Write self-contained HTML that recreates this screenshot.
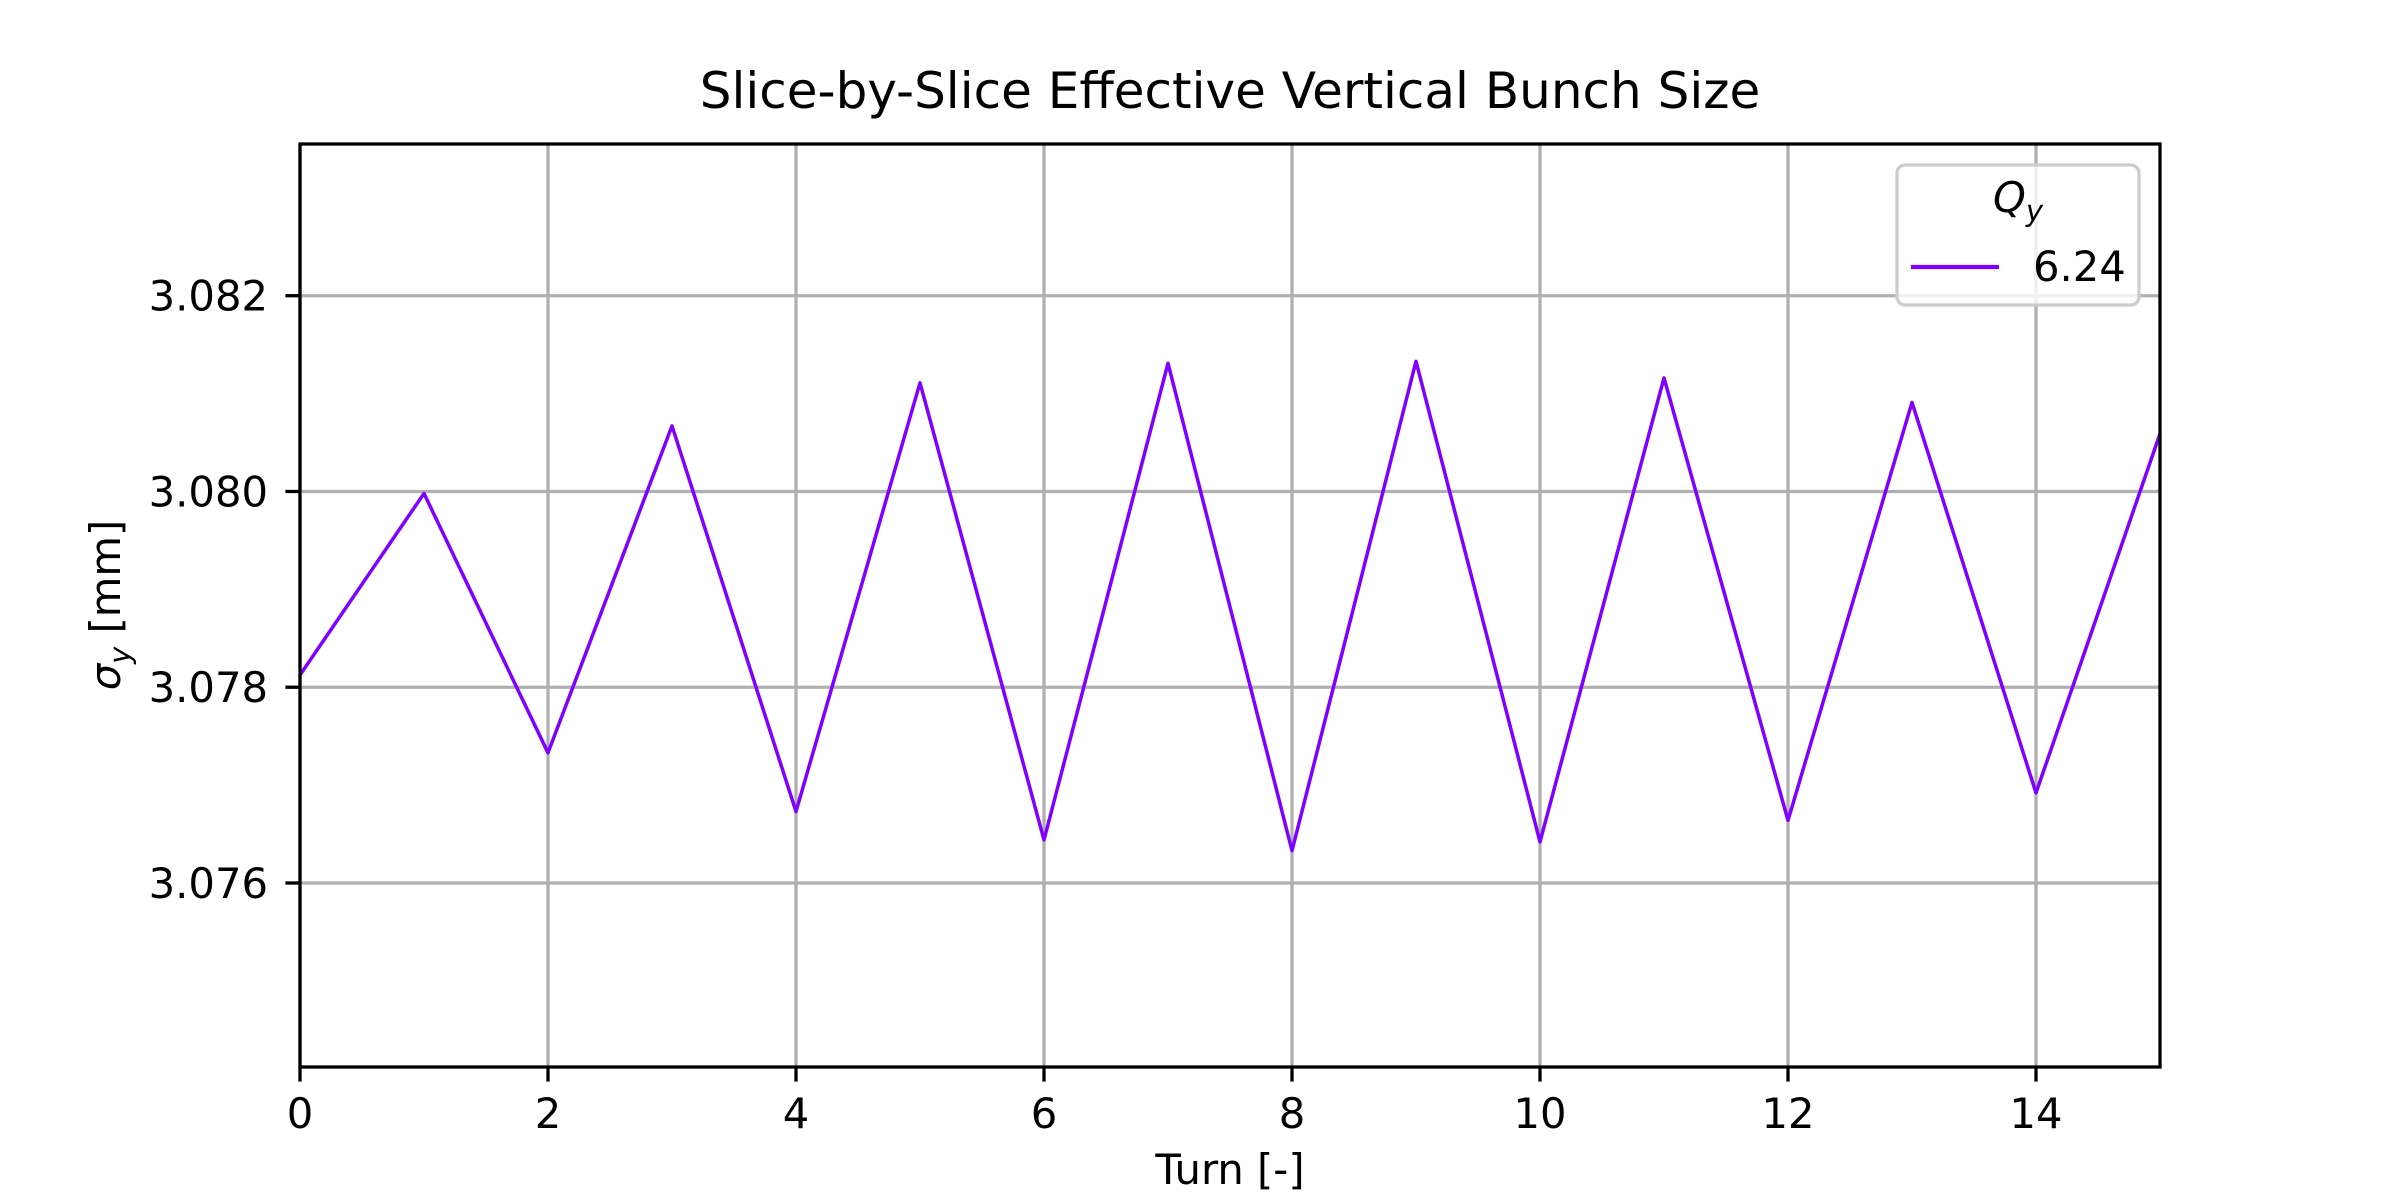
<!DOCTYPE html>
<html><head><meta charset="utf-8"><style>
body{margin:0;background:#fff}
svg{display:block;font-family:"DejaVu Sans","Liberation Sans",sans-serif}
</style></head><body>
<svg id="chart" width="2400" height="1200" viewBox="0 0 2400 1200" xmlns="http://www.w3.org/2000/svg">
<rect width="2400" height="1200" fill="#fff"/>
<text x="1230" y="108" font-size="50" text-anchor="middle">Slice-by-Slice Effective Vertical Bunch Size</text>
<g id="grid"></g>
<g id="series"></g>
<rect x="300" y="144" width="1860" height="923" fill="none" stroke="#000" stroke-width="3.3"/>
<g id="ticks"></g>
<text x="1230" y="1184" font-size="41.7" text-anchor="middle">Turn [-]</text>
<text transform="translate(120,605) rotate(-90)" font-size="41.7" text-anchor="middle"><tspan font-style="italic">σ</tspan><tspan font-size="29" dy="10" font-style="italic">y</tspan><tspan dy="-10"> [mm]</tspan></text>
<g>
<rect x="1897" y="165" width="242" height="140" rx="8" fill="#fff" fill-opacity="0.8" stroke="#ccc" stroke-width="3.3"/>
<text x="2018" y="212" font-size="41.7" font-style="italic" text-anchor="middle">Q<tspan font-size="29" dy="9">y</tspan></text>
<line x1="1911" y1="267" x2="1999" y2="267" stroke="#7f00ff" stroke-width="4.2"/>
<text x="2033" y="281" font-size="41.7">6.24</text>
</g>
</svg>
<script>
const turns=[0,1,2,3,4,5,6,7,8,9,10,11,12,13,14,15];
const sigmaY=[3.078125,3.07998,3.07733,3.08067,3.07673,3.08111,3.07644,3.08131,3.07633,3.08133,3.07642,3.08116,3.07664,3.08091,3.07692,3.08059];
const xTicks=[0,2,4,6,8,10,12,14];
const yTicks=[3.076,3.078,3.080,3.082];
const yTickLabels=["3.076","3.078","3.080","3.082"];
const NS="http://www.w3.org/2000/svg";
const L=300,R=2160,T=144,B=1067;
const xMin=0,xMax=15,yMin=3.07412,yMax=3.08355;
function xs(v){return L+(v-xMin)/(xMax-xMin)*(R-L);}
function ys(v){return B-(v-yMin)/(yMax-yMin)*(B-T);}
function mk(tag,attrs,parent){const e=document.createElementNS(NS,tag);for(const k in attrs)e.setAttribute(k,attrs[k]);parent.appendChild(e);return e;}
const grid=document.getElementById('grid'),ticks=document.getElementById('ticks'),series=document.getElementById('series');
xTicks.forEach(v=>{
 const x=xs(v);
 const g=mk('line',{x1:x,y1:T,x2:x,y2:B,stroke:'#b0b0b0','stroke-width':3.3},grid);
 
 
 const t=mk('line',{x1:x,y1:B,x2:x,y2:B+14.6,stroke:'#000','stroke-width':3.3},ticks);
 
 
 const l=mk('text',{x:x,y:1128,'font-size':41.7,'text-anchor':'middle'},ticks);
 l.textContent=String(v);
 
 
});
yTicks.forEach((v,i)=>{
 const y=ys(v);
 const g=mk('line',{x1:L,y1:y,x2:R,y2:y,stroke:'#b0b0b0','stroke-width':3.3},grid);
 
 
 const t=mk('line',{x1:L-14.6,y1:y,x2:L,y2:y,stroke:'#000','stroke-width':3.3},ticks);
 
 
 const l=mk('text',{x:268,y:y+15,'font-size':41.7,'text-anchor':'end'},ticks);
 l.textContent=yTickLabels[i];
 
 
});
const pts=turns.map((t,i)=>xs(t)+','+ys(sigmaY[i])).join(' ');
const pl=mk('polyline',{points:pts,fill:'none',stroke:'#7f00ff','stroke-width':3.5,'stroke-linejoin':'round'},series);


</script>
</body></html>
